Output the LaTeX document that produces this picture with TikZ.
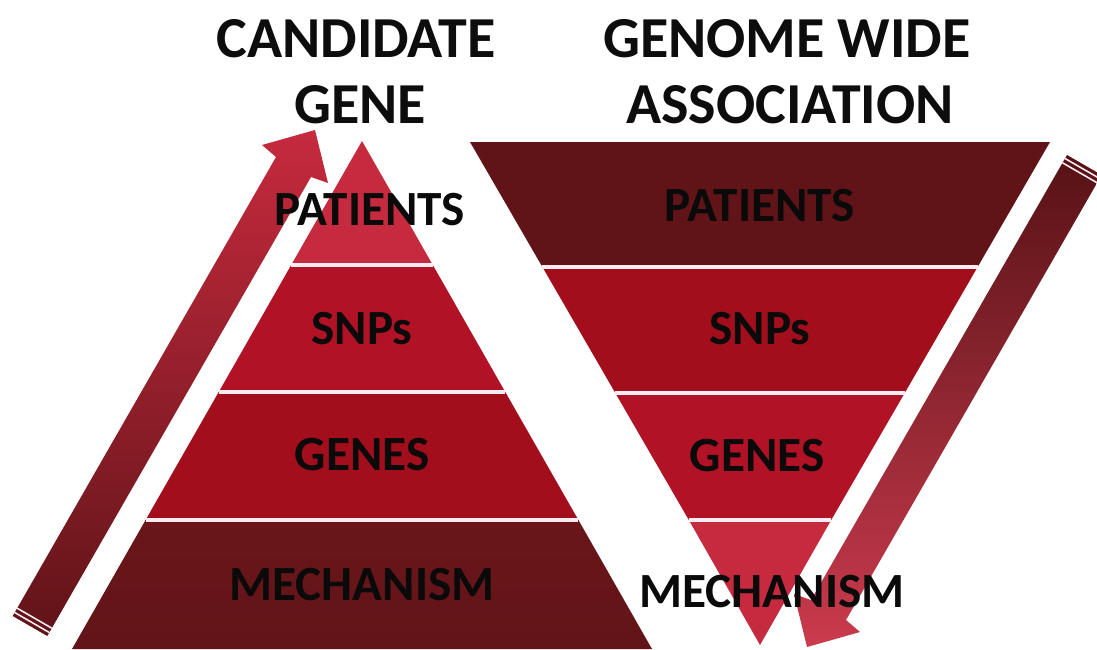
\documentclass[tikz,border=0pt]{standalone}
\usepackage{fontspec}
\setmainfont{Carlito}

\definecolor{bandA}{RGB}{198,42,62}
\definecolor{bandB}{RGB}{178,18,38}
\definecolor{bandC}{RGB}{162,14,28}
\definecolor{bandD}{RGB}{106,22,26}
\definecolor{maroon}{RGB}{96,20,24}
\definecolor{divline}{RGB}{252,236,242}

\begin{document}
\begin{tikzpicture}[x=0.1mm,y=-0.1mm,line join=round,
    divider/.style={draw=divline,line width=0.9pt},
    stripe/.style={draw=divline,line width=0.45pt},
    title/.style={font=\bfseries\fontsize{16.5}{19}\selectfont,text=black!95,anchor=base},
    label/.style={font=\bfseries\fontsize{14}{16}\selectfont,text=black!96,anchor=base}]
    \useasboundingbox[fill=white] (0,0) rectangle (1097,649);

    % levá pyramida (candidate gene)
    \coordinate (LT) at (362,141);
    \coordinate (L1a) at (291.2,265);  \coordinate (L1b) at (432.8,265);
    \coordinate (L2a) at (218.7,392);  \coordinate (L2b) at (505.3,392);
    \coordinate (L3a) at (145.6,520);  \coordinate (L3b) at (578.4,520);
    \coordinate (L4a) at (72,649);     \coordinate (L4b) at (652,649);

    \fill[bandA] (LT)--(L1b)--(L1a)--cycle;
    \fill[bandB] (L1a)--(L1b)--(L2b)--(L2a)--cycle;
    \fill[bandC] (L2a)--(L2b)--(L3b)--(L3a)--cycle;
    \shade[top color=bandD,bottom color=bandD!92!black] (L3a)--(L3b)--(L4b)--(L4a)--cycle;
    \draw[divider] (L1a)--(L1b);
    \draw[divider] (L2a)--(L2b);
    \draw[divider] (L3a)--(L3b);

    % obrácená pyramida (genome wide)
    \coordinate (R0a) at (470,142);    \coordinate (R0b) at (1050,142);
    \coordinate (R1a) at (542.4,267);  \coordinate (R1b) at (977.6,267);
    \coordinate (R2a) at (615.3,393);  \coordinate (R2b) at (904.7,393);
    \coordinate (R3a) at (688.8,520);  \coordinate (R3b) at (831.2,520);
    \coordinate (RB) at (760,645);

    \fill[maroon] (R0a)--(R0b)--(R1b)--(R1a)--cycle;
    \fill[bandC] (R1a)--(R1b)--(R2b)--(R2a)--cycle;
    \fill[bandB] (R2a)--(R2b)--(R3b)--(R3a)--cycle;
    \fill[bandA] (R3a)--(R3b)--(RB)--cycle;
    \draw[divider] (R1a)--(R1b);
    \draw[divider] (R2a)--(R2b);
    \draw[divider] (R3a)--(R3b);

    % šipka nahoru
    \shade[top color=bandA,bottom color=bandD!90!black]
        (12.7,616)--(276,157)--(262,145)--(315,130)--(328,183)--(311,177)--(47.3,636)--cycle;
    \draw[stripe] (14.7,612.5)--(49.3,632.5);
    \draw[stripe] (17.2,608.2)--(51.8,628.2);

    % šipka dolů
    \shade[top color=maroon!90!black,bottom color=bandA!92!white]
        (1067,155)--(811,600)--(794,594)--(807,647)--(860,632)--(846,620)--(1101.6,175)--cycle;
    \draw[stripe] (1065,158.5)--(1099.6,178.5);
    \draw[stripe] (1062.5,162.8)--(1097.1,182.8);

    % nadpisy
    \node[title] (cand) at (356,58) {CANDIDATE};
    \node[title] (gene) at (360,124) {GENE};
    \node[title] (gwide) at (787,58) {GENOME WIDE};
    \node[title] (assoc) at (790,124) {ASSOCIATION};

    % popisky pater
    \node[label] (lpat) at (370,225) {PATIENTS};
    \node[label] (lsnp) at (362,344) {SNPs};
    \node[label] (lgen) at (362,470) {GENES};
    \node[label] (lmech) at (362,600) {MECHANISM};
    \node[label] (rpat) at (760,221) {PATIENTS};
    \node[label] (rsnp) at (760,344) {SNPs};
    \node[label] (rgen) at (757,471) {GENES};
    \node[label] (rmech) at (772,607) {MECHANISM};
\end{tikzpicture}
\end{document}
